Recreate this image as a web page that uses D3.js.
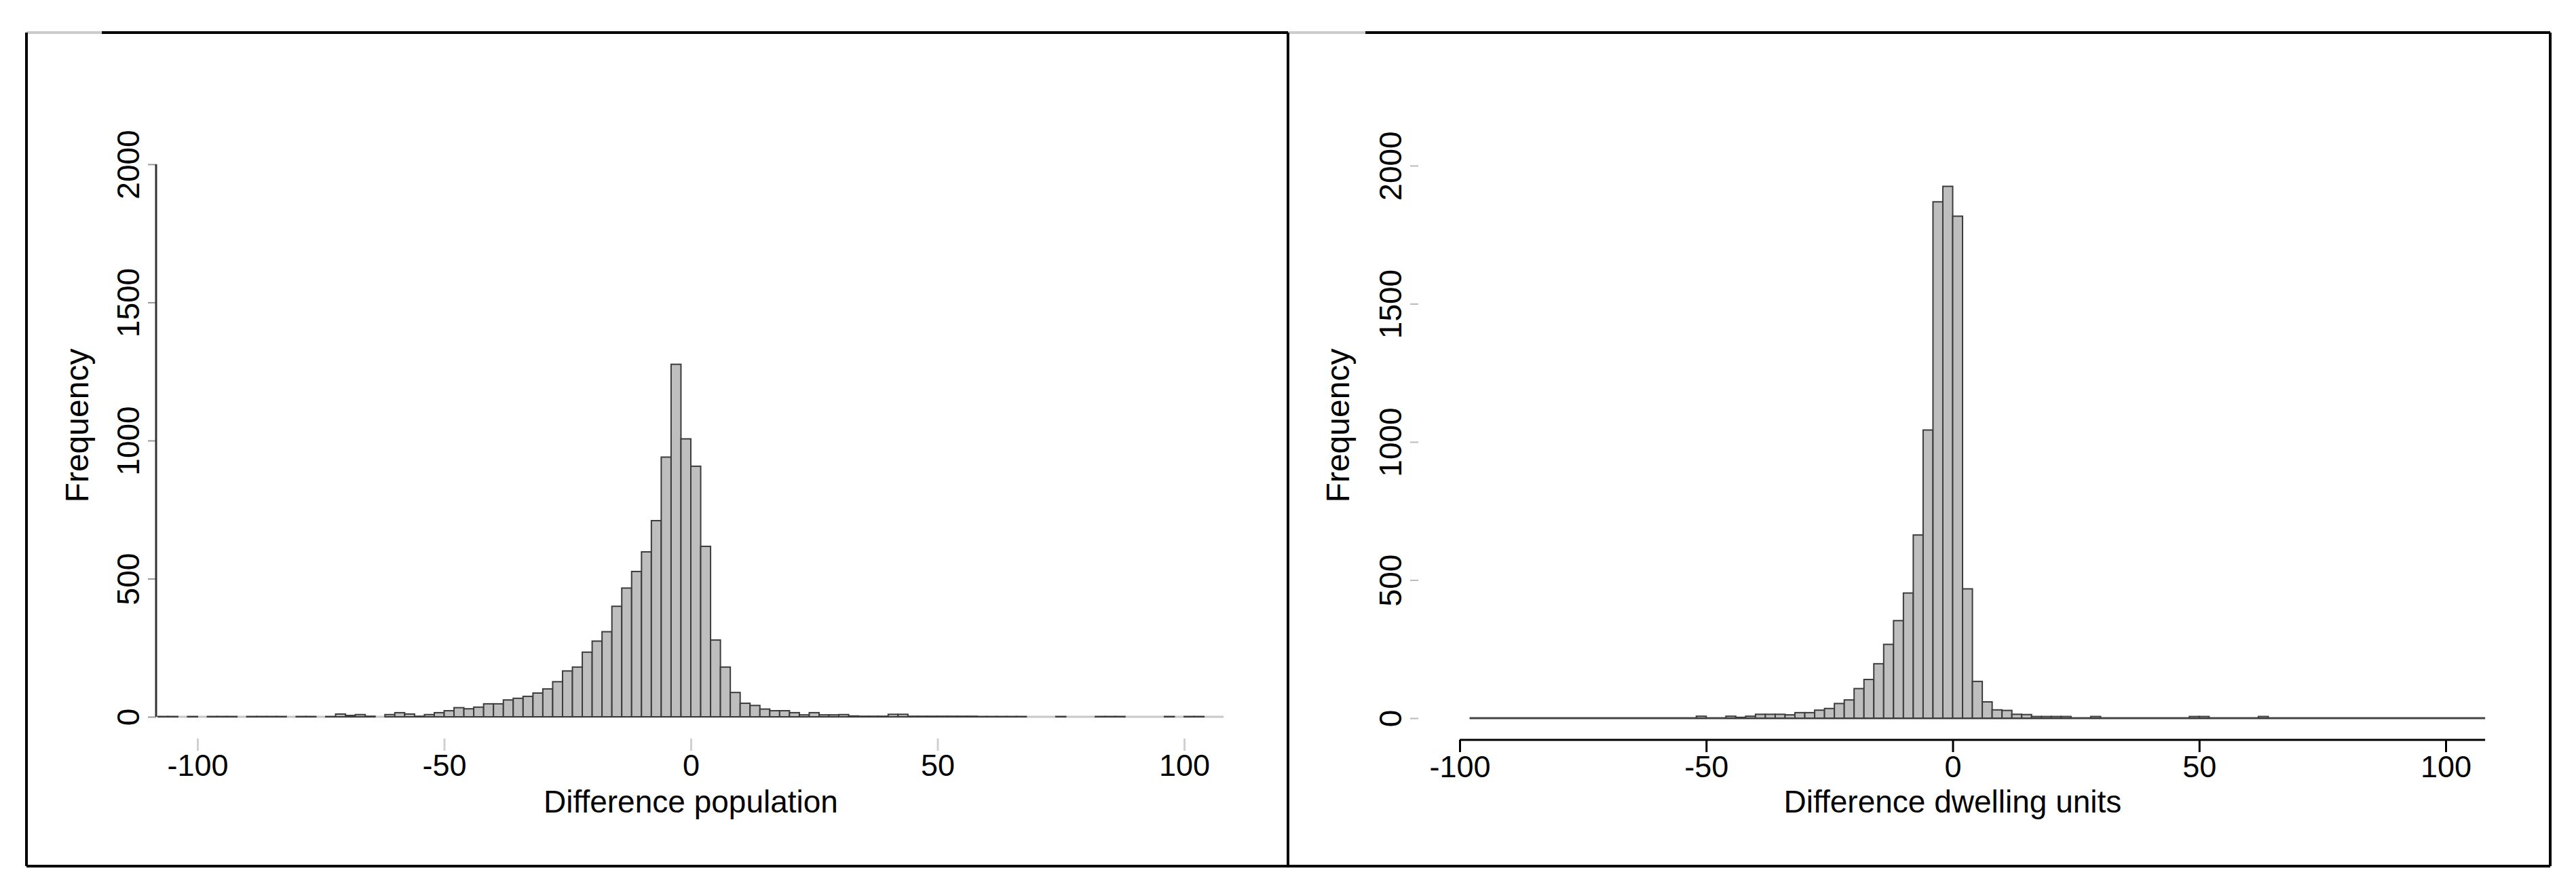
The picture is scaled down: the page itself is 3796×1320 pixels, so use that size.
<!DOCTYPE html>
<html>
<head>
<meta charset="utf-8">
<script src="https://cdn.jsdelivr.net/npm/d3@7"></script>
<style>
    html, body { margin: 0; padding: 0; background: #fff; }
    svg text { font-family: "Liberation Sans", Arial, sans-serif; fill: #000; }
</style>
</head>
<body>
<svg id="chart"></svg>
<script>
// bin width is 2 units, each array entry is one bin starting at the given left edge
var binWidth = 2;

// Difference population: bins from -108 to 108
var popStart = -108;
var popCounts = [
    1, 1, 0, 1, 0, 1, 1, 1, 0, 1,          // -108 .. -90
    1, 1, 1, 0, 1, 1, 0, 1, 10, 5,         // -88 .. -70
    8, 2, 0, 8, 15, 10, 2, 8, 15, 22,      // -68 .. -50
    33, 29, 35, 47, 47, 61, 67, 74, 86, 101, // -48 .. -30
    127, 166, 180, 234, 274, 308, 400, 466, 526, 597, // -28 .. -10
    710, 940, 1276, 1006, 907, 617, 278, 180, 88, 49, // -8 .. 10
    41, 28, 22, 22, 15, 7, 15, 7, 7, 8,    // 12 .. 30
    3, 2, 2, 2, 9, 9, 2, 2, 2, 2,          // 32 .. 50
    2, 2, 2, 1, 1, 1, 1, 1, 0, 0,          // 52 .. 70
    0, 1, 0, 0, 0, 1, 1, 1, 0, 0,          // 72 .. 90
    0, 0, 1, 0, 1, 1, 0, 0                 // 92 .. 106
];

// Difference dwelling units: bins from -98 to 108
var dwStart = -98;
var dwCounts = [
    0, 0, 0, 0, 0, 0, 0, 0, 0, 0,          // -98 .. -80
    0, 0, 0, 0, 0, 0, 0, 0, 0, 0,          // -78 .. -60
    0, 0, 0, 7, 0, 0, 7, 3, 7, 14,         // -58 .. -40
    14, 14, 12, 20, 20, 29, 35, 53, 66, 107, // -38 .. -20
    140, 197, 267, 353, 453, 663, 1043, 1869, 1925, 1817, // -18 .. 0
    468, 133, 59, 30, 28, 14, 13, 6, 6, 6, // 2 .. 20
    6, 0, 0, 6, 0, 0, 0, 0, 0, 0,          // 22 .. 40
    0, 0, 0, 6, 6, 0, 0, 0, 0, 0,          // 42 .. 60
    6, 0, 0, 0, 0, 0, 0, 0, 0, 0,          // 62 .. 80
    0, 0, 0, 0, 0, 0, 0, 0, 0, 0,          // 82 .. 100
    0, 0, 0                                // 102 .. 106
];

var xTicks = [-100, -50, 0, 50, 100];
var yTicks = [0, 500, 1000, 1500, 2000];

var W = 3796, H = 1320;

// plain labels, with an ascii hyphen for negatives
var plain = function (d) { return String(d); };

var svg = d3.select("#chart")
    .attr("width", W)
    .attr("height", H);

svg.append("rect")
    .attr("width", W)
    .attr("height", H)
    .attr("fill", "#fff");

// outer frames of the two panels
var frame = svg.append("g")
    .attr("fill", "none")
    .attr("stroke-width", 4);

frame.append("line").attr("x1", 39).attr("x2", 150).attr("y1", 48).attr("y2", 48).attr("stroke", "#ccc");
frame.append("line").attr("x1", 150).attr("x2", 3758).attr("y1", 48).attr("y2", 48).attr("stroke", "#000");
frame.append("line").attr("x1", 1898).attr("x2", 2012).attr("y1", 48).attr("y2", 48).attr("stroke", "#ccc");
frame.append("line").attr("x1", 39).attr("x2", 3758).attr("y1", 1276).attr("y2", 1276).attr("stroke", "#000");
frame.append("line").attr("x1", 39).attr("x2", 39).attr("y1", 48).attr("y2", 1276).attr("stroke", "#000");
frame.append("line").attr("x1", 1898).attr("x2", 1898).attr("y1", 48).attr("y2", 1276).attr("stroke", "#000");
frame.append("line").attr("x1", 3758).attr("x2", 3758).attr("y1", 48).attr("y2", 1276).attr("stroke", "#000");

function drawPanel(p) {
    var x = d3.scaleLinear().domain([-100, 100]).range(p.xRange);
    var y = d3.scaleLinear().domain([0, 2000]).range(p.yRange);

    var bins = p.counts.map(function (c, i) {
        return { x0: p.start + i * binWidth, x1: p.start + (i + 1) * binWidth, n: c };
    });
    var lo = p.start, hi = p.start + p.counts.length * binWidth;

    var g = svg.append("g");

    // baseline under the bars
    g.append("line")
        .attr("x1", x(lo)).attr("x2", x(hi))
        .attr("y1", y(0)).attr("y2", y(0))
        .attr("stroke", p.baseColor)
        .attr("stroke-width", 3);

    // bars
    g.append("g")
        .selectAll("rect")
        .data(bins.filter(function (d) { return d.n > 0; }))
        .enter().append("rect")
        .attr("x", function (d) { return x(d.x0); })
        .attr("width", function (d) { return x(d.x1) - x(d.x0); })
        .attr("y", function (d) { return y(d.n); })
        .attr("height", function (d) { return y(0) - y(d.n); })
        .attr("fill", "#bebebe")
        .attr("stroke", "#3c3c3c")
        .attr("stroke-width", 2);

    // x axis
    var xg = g.append("g")
        .attr("transform", "translate(0," + p.xAxisY + ")")
        .call(d3.axisBottom(x).tickValues(xTicks).tickFormat(plain).tickSize(18).tickSizeOuter(0));
    xg.select(".domain").remove();
    xg.selectAll(".tick line")
        .attr("stroke", p.xTickColor)
        .attr("stroke-width", 3);
    xg.selectAll(".tick text")
        .attr("y", 55)
        .attr("dy", null)
        .style("font-size", "45px")
        .style("font-family", "'Liberation Sans', Arial, sans-serif")
        .attr("fill", "#000");
    if (p.xLine) {
        xg.append("line")
            .attr("x1", x(-100)).attr("x2", x(hi))
            .attr("y1", 0).attr("y2", 0)
            .attr("stroke", "#000")
            .attr("stroke-width", 3);
    }

    // y axis
    var yg = g.append("g")
        .attr("transform", "translate(" + p.yAxisX + ",0)")
        .call(d3.axisLeft(y).tickValues(yTicks).tickFormat(plain).tickSize(12).tickSizeOuter(0));
    yg.select(".domain").remove();
    yg.selectAll(".tick line")
        .attr("stroke", p.yTickColor)
        .attr("stroke-width", 2);
    yg.selectAll(".tick text")
        .attr("x", null)
        .attr("dy", null)
        .attr("transform", "translate(-25,0) rotate(-90)")
        .attr("text-anchor", "middle")
        .style("font-size", "46px")
        .style("font-family", "'Liberation Sans', Arial, sans-serif")
        .attr("fill", "#000");
    if (p.yLine) {
        yg.append("line")
            .attr("x1", 0).attr("x2", 0)
            .attr("y1", y(0)).attr("y2", y(2000))
            .attr("stroke", "#333")
            .attr("stroke-width", 3);
    }

    // axis titles
    g.append("text")
        .attr("transform", "translate(" + p.yTitleX + ",627) rotate(-90)")
        .attr("text-anchor", "middle")
        .style("font-size", "48px")
        .text("Frequency");

    g.append("text")
        .attr("x", x(0))
        .attr("y", 1197)
        .attr("text-anchor", "middle")
        .style("font-size", "46px")
        .text(p.xTitle);
}

drawPanel({
    counts: popCounts,
    start: popStart,
    xRange: [291, 1745],
    yRange: [1056, 242],
    xAxisY: 1088,
    xLine: false,
    xTickColor: "#d0d0d0",
    yAxisX: 230,
    yLine: true,
    yTickColor: "#999",
    baseColor: "#c8c8c8",
    yTitleX: 130,
    xTitle: "Difference population"
});

drawPanel({
    counts: dwCounts,
    start: dwStart,
    xRange: [2151, 3604],
    yRange: [1058, 244],
    xAxisY: 1090,
    xLine: true,
    xTickColor: "#000",
    yAxisX: 2090,
    yLine: false,
    yTickColor: "#bbb",
    baseColor: "#444",
    yTitleX: 1988,
    xTitle: "Difference dwelling units"
});
</script>
</body>
</html>
